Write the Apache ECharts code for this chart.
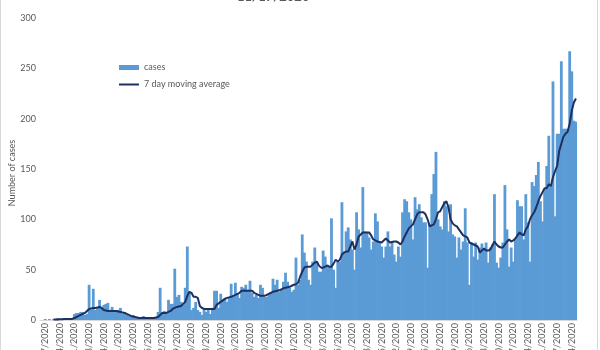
<!DOCTYPE html>
<html><head><meta charset="utf-8">
<script src="https://cdn.jsdelivr.net/npm/echarts@6/dist/echarts.min.js"></script>
<style>html,body{margin:0;padding:0;background:#fff}#c{width:600px;height:350px}</style>
</head><body><div id="c"></div>
<script>
// Daily dates 3/5/2020 .. 11/16/2020
const startDate = [2020, 3, 5];
const dayCount = 257;
const categories = [];
(function(){const d=new Date(Date.UTC(startDate[0],startDate[1]-1,startDate[2]));for(let i=0;i<dayCount;i++){categories.push((d.getUTCMonth()+1)+'/'+d.getUTCDate()+'/'+d.getUTCFullYear());d.setUTCDate(d.getUTCDate()+1);}})();

const cases = [
0,0,1,0,1,0,1,1,2,1,1,2,1,1,2,2,
6,7,7,8,8,5,6,
35,10,31,10,12,20,12,15,
16,17,10,13,10,9,10,12,6,8,
5,4,3,5,2,3,2,1,4,2,
3,2,3,2,3,8,32,8,9,7,20,16,16,
51,23,25,18,15,32,73,28,10,12,
18,10,8,5,12,8,10,6,12,29,
29,12,26,20,22,18,22,36,23,37,
26,22,33,32,35,30,39,27,23,25,
22,35,32,23,23,25,28,41,35,40,
28,30,38,47,38,32,28,30,62,35,40,85,67,58,40,
35,58,72,58,48,48,69,63,55,53,
101,50,32,58,58,117,68,88,92,80,
70,50,107,90,72,132,88,87,82,70,
78,106,98,77,73,62,73,88,73,78,
65,58,73,63,107,120,118,107,100,80,
122,110,115,102,97,97,52,95,125,145,
167,100,93,90,118,113,88,115,85,83,62,82,70,78,111,
77,35,77,63,77,60,72,76,70,77,
57,72,75,125,57,52,62,77,134,90,
53,72,58,80,119,113,113,80,125,97,
58,137,133,144,157,118,98,130,153,183,
135,237,103,185,185,257,190,190,190,267,247,198,197
];

const movingAvg = [
null,null,null,null,null,null,
0.5,0.5,0.5,0.7,0.8,1,1,1,1,1.2,
2,3,4,5,6,7,9,11,11.5,12,
12,12.5,13,12,10,9.5,9,9,9,9,
9,8.5,8,7.5,7,6,5,4,3.5,3,
2.5,2,2,2,2,2,2,2,2,2.5,
3,5,7,7,7,8,9,11,12,13,
13.5,14,16,18,24,28,27,23,23,22,
14,12,11,11,11,11,11,11,15,16.5,
18,19.5,21,22,22.5,23,24,25,26,27,
29,29,29,29,29,29,27,26,25,24,
24,24,25,26,27,28,28.5,29,29.5,30.5,
31.5,32,32.5,33,34,35,35.5,37,43,48,
52,53,53,53,55,57,58,54,52,52,
53,54,53,53,56,60,58,60,65,67,
68,68,73,78,70,75,83,85,87,87,
87,87,84,80,79,78,77.5,77,79,81,
79,77,77.5,78,78,77,75,78,83,87,
91,93,95,100,105,107,107,107,105,100,
93,94,95,100,107,108,112,116,118,112,
100,96,94,93,90,87,84,83,82,77,
76,75,74,73,67,69,71,69,69,70,
74,78,75,73,72,72,75,78,80,78,
79,81,84,87,85,84,90,93,100,104,
107,112,118,123,127,131,131,135,133,142,
148,153,168,175,182,185,187,195,208,216,220
];

const yTicks = [0, 50, 100, 150, 200, 250, 300];
const seriesNames = ['cases', '7 day moving average'];
const titleText = '11/17/2020';
const yAxisTitle = 'Number of cases';

const txt = '#595959';
const navy = '#1F2F5F';
const barBlue = '#5B9BD5';
const font = 'Lato, "Liberation Sans", sans-serif';
const chart = echarts.init(document.getElementById('c'), null, {renderer: 'canvas'});
chart.setOption({
  animation: false,
  backgroundColor: '#fff',
  textStyle: {fontFamily: font},
  graphic: [
    {type: 'text', left: 237, top: -10, style: {text: titleText, fontSize: 13, fontWeight: 'bold', fill: txt, fontFamily: font}},
    {type: 'text', x: 12, y: 173, rotation: Math.PI / 2, style: {text: yAxisTitle, fontSize: 9, fill: txt, fontFamily: font, align: 'center', verticalAlign: 'middle'}},
    {type: 'line', shape: {x1: 0.5, y1: 0, x2: 0.5, y2: 350}, style: {stroke: '#D9D9D9', lineWidth: 1}},
    {type: 'line', shape: {x1: 597.5, y1: 0, x2: 597.5, y2: 350}, style: {stroke: '#D9D9D9', lineWidth: 1}}
  ],
  legend: [
    {
      left: 114, top: 58, itemWidth: 20, itemHeight: 5,
      textStyle: {color: txt, fontSize: 9, fontFamily: font},
      data: [{name: seriesNames[0], icon: 'rect'}]
    },
    {
      left: 114, top: 75, itemWidth: 20, itemHeight: 2,
      textStyle: {color: txt, fontSize: 9, fontFamily: font},
      data: [{name: seriesNames[1], icon: 'rect', itemStyle: {color: navy}}]
    }
  ],
  grid: {left: 40, right: 23, top: 18, bottom: 30, containLabel: false, outerBoundsMode: 'none'},
  xAxis: {
    type: 'category', data: categories, boundaryGap: true,
    axisLine: {lineStyle: {color: '#D9D9D9'}},
    axisTick: {show: false},
    axisLabel: {rotate: 90, fontSize: 9, color: txt, margin: 3, interval: function (i) { return (i - 2) % 7 === 0; }}
  },
  yAxis: {
    type: 'value', min: yTicks[0], max: yTicks[yTicks.length - 1], interval: 50,
    axisLine: {show: false}, axisTick: {show: false}, splitLine: {show: false},
    axisLabel: {fontSize: 9, color: txt, margin: 4}
  },
  series: [
    {name: seriesNames[0], type: 'bar', data: cases, barWidth: 2.8,
     itemStyle: {color: barBlue}},
    {name: seriesNames[1], type: 'line', data: movingAvg, symbol: 'none', showSymbol: false, smooth: false,
     lineStyle: {color: navy, width: 2}, itemStyle: {color: navy}}
  ]
});
</script></body></html>
